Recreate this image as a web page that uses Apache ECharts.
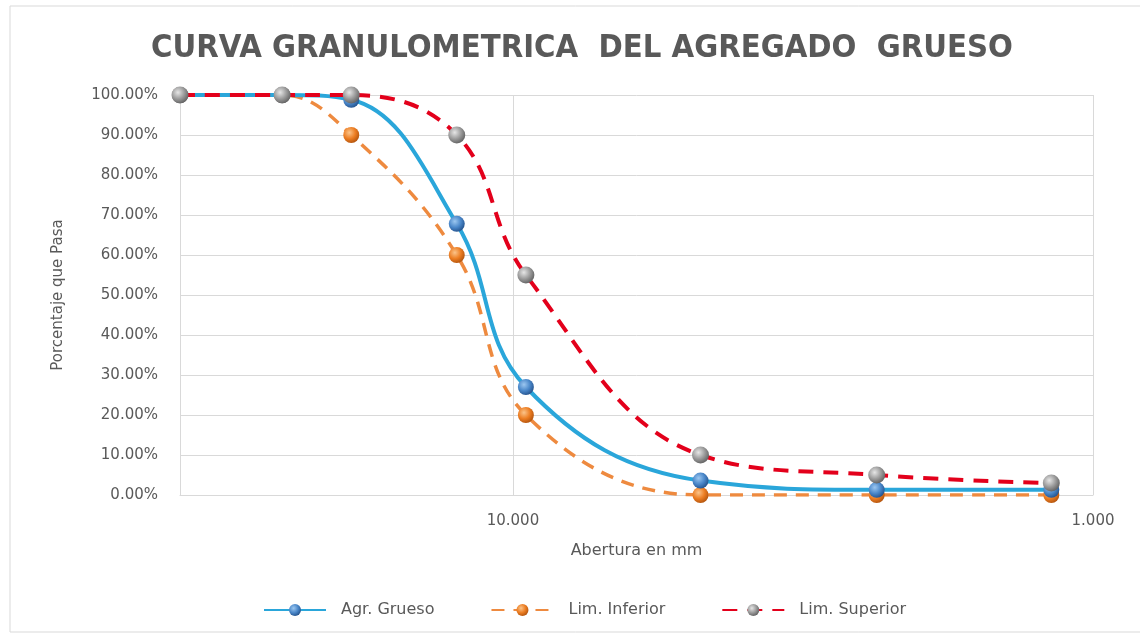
<!DOCTYPE html>
<html>
<head>
<meta charset="utf-8">
<script src="https://cdn.jsdelivr.net/npm/echarts@6/dist/echarts.min.js"></script>
<style>
  html, body { margin: 0; padding: 0; background: #fff; }
  #chart { width: 1140px; height: 641px; }
</style>
</head>
<body>
<div id="chart"></div>
<script>
// aberturas de tamiz (mm)
const sieves = [37.5, 25, 19, 12.5, 9.5, 4.75, 2.36, 1.18];
const agrGrueso = [100, 100, 98.8, 67.8, 27, 3.6, 1.3, 1.3];
const limInferior = [100, 100, 90, 60, 20, 0, 0, 0];
const limSuperior = [100, 100, 100, 90, 55, 10, 5, 3];
const seriesNames = ['Agr. Grueso', 'Lim. Inferior', 'Lim. Superior'];

const textFont = '"DejaVu Sans", sans-serif';

function sphere(light, base, dark) {
    return {
        type: 'radial', x: 0.38, y: 0.35, r: 0.7,
        colorStops: [
            { offset: 0, color: light },
            { offset: 0.55, color: base },
            { offset: 1, color: dark }
        ]
    };
}

function pairs(vals) {
    return sieves.map((s, i) => [s, vals[i]]);
}

const chart = echarts.init(document.getElementById('chart'));

const options = {
    backgroundColor: '#fff',
    animation: false,
    title: {
        text: 'CURVA GRANULOMETRICA  DEL AGREGADO  GRUESO',
        left: 146,
        top: 27,
        textStyle: {
            fontFamily: '"DejaVu Sans Condensed", sans-serif',
            fontSize: 32.5,
            fontWeight: 'bold',
            color: '#595959'
        }
    },
    graphic: [{
        type: 'rect',
        shape: { x: 10, y: 6, width: 1140, height: 626 },
        style: { fill: 'none', stroke: '#d9d9d9', lineWidth: 1 },
        silent: true
    }],
    legend: {
        bottom: 18,
        left: 258,
        itemWidth: 62,
        itemHeight: 15,
        itemGap: 56,
        textStyle: { fontFamily: textFont, fontSize: 16, color: '#595959', padding: [0, 0, 0, 10] },
        data: seriesNames
    },
    grid: { left: 180, right: 47, top: 95, bottom: 146 },
    xAxis: {
        type: 'log',
        logBase: 10,
        inverse: true,
        min: 1,
        max: 37.5,
        name: 'Abertura en mm',
        nameLocation: 'middle',
        nameGap: 48,
        nameTextStyle: { fontFamily: textFont, fontSize: 16, color: '#595959' },
        axisLine: { show: true, onZero: false, lineStyle: { color: '#d9d9d9', width: 1 } },
        axisTick: { show: false },
        axisLabel: {
            fontFamily: textFont, fontSize: 15, color: '#595959', margin: 19,
            showMaxLabel: false,
            formatter: (v) => v.toFixed(3)
        },
        splitLine: { show: true, lineStyle: { color: '#d9d9d9', width: 1 } }
    },
    yAxis: {
        type: 'value',
        min: 0,
        max: 100,
        interval: 10,
        position: 'left',
        name: 'Porcentaje que Pasa',
        nameLocation: 'middle',
        nameGap: 114,
        nameTextStyle: { fontFamily: textFont, fontSize: 15, color: '#595959' },
        axisLine: { show: false },
        axisTick: { show: false },
        axisLabel: {
            fontFamily: textFont, fontSize: 15, color: '#595959', margin: 22,
            formatter: (v) => v.toFixed(2) + '%'
        },
        splitLine: { lineStyle: { color: '#d9d9d9', width: 1 } }
    },
    series: [
        {
            name: seriesNames[1],
            type: 'line',
            smooth: 0.4,
            data: pairs(limInferior),
            symbol: 'circle',
            symbolSize: 16,
            z: 2,
            lineStyle: { color: '#ee8a3f', width: 3.5, type: [13, 9] },
            itemStyle: { color: sphere('#fbc48a', '#ec7d22', '#b0520c'), borderWidth: 0 }
        },
        {
            name: seriesNames[0],
            type: 'line',
            smooth: 0.4,
            data: pairs(agrGrueso),
            symbol: 'circle',
            symbolSize: 16,
            z: 3,
            lineStyle: { color: '#2aa6da', width: 4 },
            itemStyle: { color: sphere('#9cc7f0', '#4a87c9', '#22508a'), borderWidth: 0 }
        },
        {
            name: seriesNames[2],
            type: 'line',
            smooth: 0.4,
            data: pairs(limSuperior),
            symbol: 'circle',
            symbolSize: 17,
            z: 4,
            lineStyle: { color: '#e3001b', width: 4, type: [15, 10] },
            itemStyle: { color: sphere('#e6e6e6', '#9a9a9a', '#5e5e5e'), borderWidth: 0 }
        }
    ]
};

chart.setOption(options);
</script>
</body>
</html>
